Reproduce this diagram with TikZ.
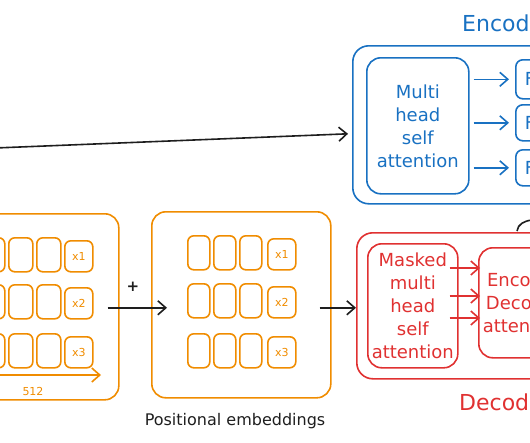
\documentclass[tikz,border=0pt]{standalone}
\usepackage{fontspec}
\setmainfont{DejaVu Sans}
\usetikzlibrary{arrows.meta,calc}
\definecolor{encblue}{HTML}{1971C2}
\definecolor{decred}{HTML}{E03131}
\definecolor{emborange}{HTML}{F08C00}
\definecolor{inkblack}{HTML}{1E1E1E}
\tikzset{
	box/.style={draw, rounded corners=14pt, line width=1.6pt, anchor=north west, inner sep=0pt},
	cell/.style={draw=emborange, rounded corners=6pt, line width=1.6pt, anchor=north west, inner sep=0pt, text=emborange, font=\fontsize{11}{12}\selectfont},
	barb/.style={-{Straight Barb[length=8pt,width=14pt]}, line width=1.6pt},
	title/.style={font=\fontsize{22}{24}\selectfont, anchor=west, inner sep=0pt},
	lines/.style={align=center, font=\fontsize{18}{23}\selectfont},
}

\begin{document}
\begin{tikzpicture}[x=1pt, y=-1pt]
		%%%%% START %%%%%
		\useasboundingbox (0,0) rectangle (530,442);
		\clip (0,0) rectangle (530,442);
		
		% encoder
		\node[box, draw=encblue, minimum width=290pt, minimum height=158pt, rounded corners=16pt] (enc) at (352,45) {};
		\node[title, text=encblue] (enctitle) at (462,23) {Encoder};
		\node[box, lines, draw=encblue, text=encblue, minimum width=102pt, minimum height=136pt] (mhsa) at (366,57) {Multi\\head\\self\\attention};
		\node[box, lines, draw=encblue, text=encblue, rounded corners=7pt, minimum height=39pt, text width=22pt, inner xsep=9pt, align=left] (f1) at (515,59) {FFN};
		\node[box, lines, draw=encblue, text=encblue, rounded corners=7pt, minimum height=36pt, text width=22pt, inner xsep=9pt, align=left] (f2) at (515,104) {FFN};
		\node[box, lines, draw=encblue, text=encblue, rounded corners=7pt, minimum height=36pt, text width=22pt, inner xsep=9pt, align=left] (f3) at (515,149) {FFN};
		\foreach \f in {f1,f2,f3}
			\draw[barb, encblue] ($(mhsa.east |- \f.west)+(4,0)$) -- ($(\f.west)+(-6,0)$);
		
		% decoder
		\node[box, draw=decred, minimum width=290pt, minimum height=146pt, rounded corners=16pt] (dec) at (356,232) {};
		\node[title, text=decred] (dectitle) at (459,402) {Decoder};
		\node[box, lines, draw=decred, text=decred, minimum width=90pt, minimum height=124pt] (mmhsa) at (367,243) {Masked\\multi\\head\\self\\attention};
		\node[box, lines, draw=decred, text=decred, minimum width=90pt, minimum height=110pt] (eda) at (478,247) {Encoder\\Decoder\\attention};
		\foreach \y in {268,296,318}
			\draw[barb, decred] ($(mmhsa.east |- 0,\y)+(-9,0)$) -- ($(eda.west |- 0,\y)+(2,0)$);
		
		\coordinate (c1) at (517,231);
		\coordinate (c2) at (532,220);
		\draw[line width=1.6pt, inkblack] (c1) .. controls (518,224) and (524,221) .. (c2);
		
		% token and positional embeddings
		\node[box, draw=emborange, minimum width=158pt, minimum height=186pt] (emb) at (-40,213) {};
		\node[box, draw=emborange, minimum width=179pt, minimum height=186pt] (pos) at (151,211) {};
		\foreach \r/\y in {1/237,2/284,3/333}{
			\foreach \c/\x in {1/-20,2/8,3/36}
				\node[cell, minimum width=24pt, minimum height=34pt] (a-\r-\c) at (\x,\y) {};
			\node[cell, minimum width=28pt, minimum height=31pt] (ax-\r) at (64,\y+3) {x\r};
		}
		\foreach \r/\y in {1/235,2/283,3/333}{
			\foreach \c/\x in {1/187,2/213,3/239}
				\node[cell, minimum width=22pt, minimum height=34pt] (b-\r-\c) at (\x,\y) {};
			\node[cell, minimum width=28pt, minimum height=31pt] (bx-\r) at (267,\y+3) {x\r};
		}
		
		\coordinate (d0) at (-3,375);
		\coordinate (d1) at (101,375);
		\draw[barb, emborange] (d0) -- (d1);
		\node[text=emborange, font=\fontsize{11}{13}\selectfont] (dim) at (33,391) {512};
		
		\coordinate (tok) at (-5,148);
		\draw[barb, inkblack] (tok) -- ($(enc.west)+(-4,9)$);
		\draw[barb, inkblack] ($(emb.east)+(-12,1)$) -- ($(pos.west |- emb.east)+(16,1)$);
		\node[font=\fontsize{15}{16}\selectfont\bfseries, text=inkblack] (plus) at (133,287) {+};
		\draw[barb, inkblack] ($(pos.east)+(-12,3)$) -- ($(dec.west)+(0,2)$);
		\node[font=\fontsize{16}{18}\selectfont, text=inkblack] (poslabel) at (235,421) {Positional embeddings};
		
		%%%%% END %%%%%
\end{tikzpicture}
\end{document}
